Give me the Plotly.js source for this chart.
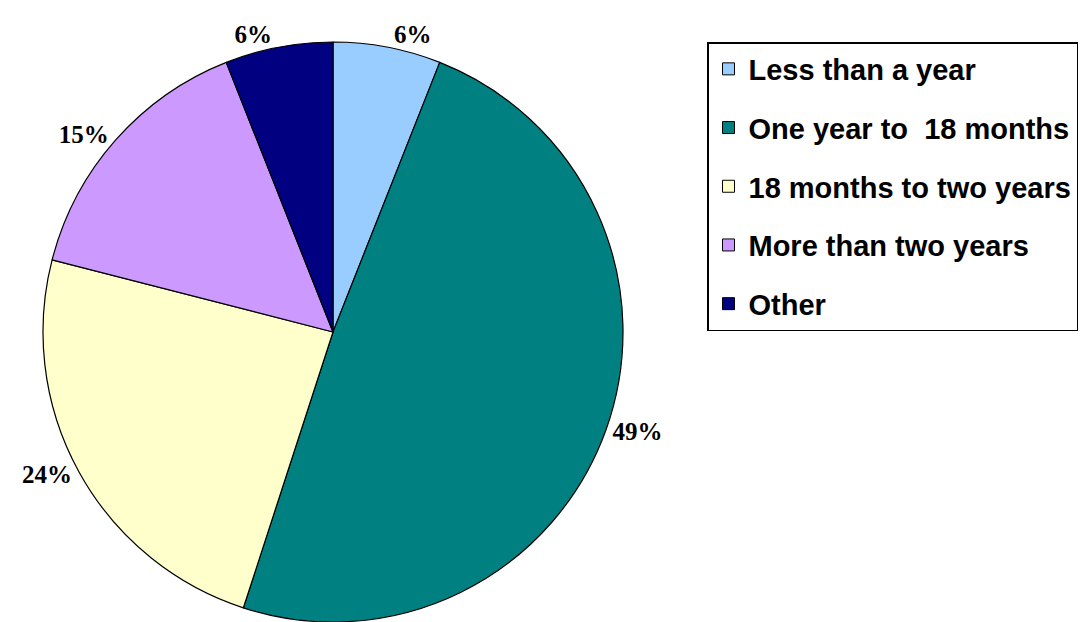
<!DOCTYPE html>
<html>
<head>
<meta charset="utf-8">
<script src="https://cdn.plot.ly/plotly-3.0.1.min.js"></script>
<style>
html, body { margin: 0; padding: 0; background: #ffffff; }
#chart { width: 1084px; height: 622px; }
</style>
</head>
<body>
<div id="chart"></div>
<script>
const categories = ["Less than a year", "One year to  18 months", "18 months to two years", "More than two years", "Other"];
const values = [6, 49, 24, 15, 6];
const colors = ["#99CCFF", "#008080", "#FFFFCC", "#CC99FF", "#000080"];

const pieTrace = {
  type: "pie",
  labels: categories,
  values: values,
  sort: false,
  direction: "clockwise",
  rotation: 0,
  marker: { colors: colors, line: { color: "#000000", width: 1.2 } },
  textinfo: "percent",
  texttemplate: "%{percent:.0%}",
  textposition: "outside",
  outsidetextfont: { family: "Liberation Serif", size: 25, color: "#000000", weight: "bold" },
  hoverinfo: "none",
  showlegend: false,
  domain: { x: [43 / 1084, 623 / 1084], y: [0, 580 / 622] }
};

const legendTraces = categories.map((name, i) => ({
  type: "scatter",
  x: [null],
  y: [null],
  mode: "markers",
  name: name,
  legendgroup: "g" + i,
  marker: { symbol: "square", size: 12, color: colors[i], line: { color: "#000000", width: 1 } },
  hoverinfo: "none",
  showlegend: true
}));

const layout = {
  width: 1084,
  height: 622,
  margin: { l: 0, r: 0, t: 0, b: 0 },
  paper_bgcolor: "#ffffff",
  plot_bgcolor: "#ffffff",
  showlegend: true,
  xaxis: { visible: false },
  yaxis: { visible: false },
  legend: {
    x: 707 / 1084,
    y: 1 - 42 / 622,
    xanchor: "left",
    yanchor: "top",
    bgcolor: "#ffffff",
    bordercolor: "#000000",
    borderwidth: 1.5,
    traceorder: "grouped",
    tracegroupgap: 18,
    itemwidth: 30,
    font: { family: "Liberation Sans", size: 29, color: "#000000", weight: "bold" }
  }
};

Plotly.newPlot("chart", [pieTrace].concat(legendTraces), layout, { staticPlot: true, displayModeBar: false });
</script>
</body>
</html>
